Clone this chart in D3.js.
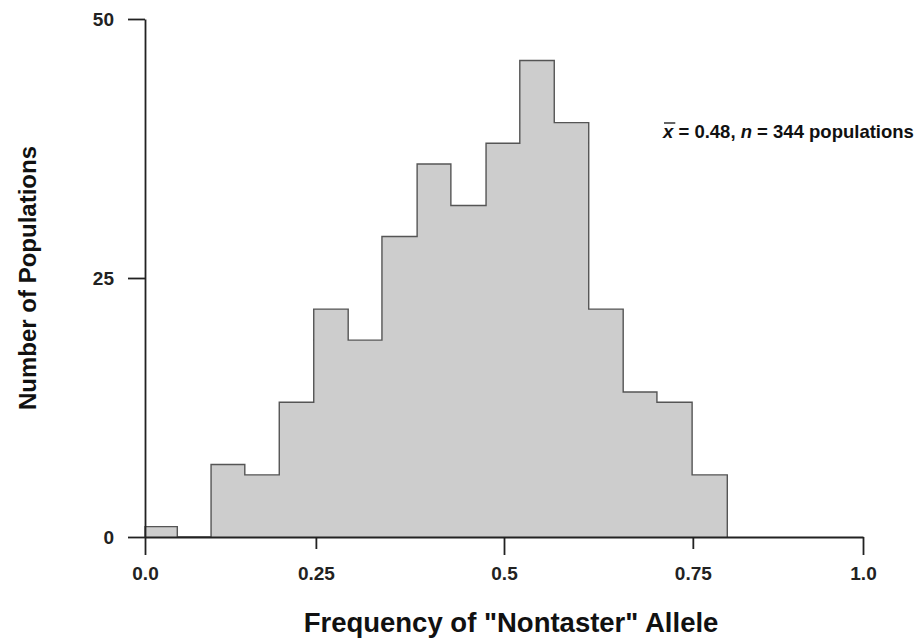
<!DOCTYPE html>
<html>
<head>
<meta charset="utf-8">
<script src="https://cdn.jsdelivr.net/npm/d3@7"></script>
<style>
  html, body { margin: 0; padding: 0; background: #fff; }
  svg { display: block; font-family: "Liberation Sans", Arial, Helvetica, sans-serif; }
</style>
</head>
<body>
<svg id="chart" width="918" height="640"></svg>
<script>
// bin edges along the frequency axis, as they sit in the picture
const binEdges = [0, 0.045, 0.092, 0.139, 0.187, 0.235, 0.283, 0.330, 0.379,
                  0.426, 0.475, 0.522, 0.570, 0.618, 0.666, 0.713, 0.762, 0.811]
// number of populations in each bin
const counts = [1, 0, 7, 6, 13, 22, 19, 29, 36, 32, 38, 46, 40, 22, 14, 13, 6]

// x tick marks, placed where the original axis draws them
const xTickAt = [0, 0.238, 0.5, 0.763, 1.0]
const xTickLabels = ["0.0", "0.25", "0.5", "0.75", "1.0"]
const xTickMajor = [true, false, true, false, true]
const yTicks = [0, 25, 50]

const svg = d3.select("#chart")

const xScale = d3.scaleLinear()
    .domain([0, 1])
    .range([145, 863])

const yScale = d3.scaleLinear()
    .domain([0, 50])
    .range([537, 19])

// histogram fill + outline (no lines between neighbouring bars)
const pts = [[binEdges[0], 0]]
counts.forEach((c, i) => pts.push([binEdges[i], c]))
pts.push([binEdges[binEdges.length - 1], 0])

const area = d3.area()
    .x(d => xScale(d[0]))
    .y0(yScale(0))
    .y1(d => yScale(d[1]))
    .curve(d3.curveStepAfter)

const outline = d3.line()
    .x(d => xScale(d[0]))
    .y(d => yScale(d[1]))
    .curve(d3.curveStepAfter)

svg.append("path")
    .datum(pts)
    .attr("d", area)
    .attr("fill", "#cdcdcd")

svg.append("path")
    .datum(pts)
    .attr("d", outline)
    .attr("fill", "none")
    .attr("stroke", "#555")
    .attr("stroke-width", 1.4)

// x axis
const xAxis = d3.axisBottom(xScale)
    .tickValues(xTickAt)
    .tickFormat((d, i) => xTickLabels[i])
    .tickSize(18)
    .tickSizeOuter(0)
    .tickPadding(10)

const gx = svg.append("g")
    .attr("transform", `translate(0,${yScale(0)})`)
    .call(xAxis)

gx.selectAll(".tick line")
    .attr("y2", (d, i) => xTickMajor[i] ? 18 : 12)
gx.selectAll(".tick text")
    .attr("y", 30)

// y axis
const yAxis = d3.axisLeft(yScale)
    .tickValues(yTicks)
    .tickSize(17)
    .tickSizeOuter(0)
    .tickPadding(14)

const gy = svg.append("g")
    .attr("transform", `translate(${xScale(0)},0)`)
    .call(yAxis)

svg.selectAll(".domain, .tick line")
    .attr("stroke", "#222")
    .attr("stroke-width", 1.8)

svg.selectAll(".tick text")
    .attr("fill", "#222")
    .style("font-size", "19px")
    .style("font-weight", "bold")

// axis titles
svg.append("text")
    .attr("x", 511)
    .attr("y", 632)
    .attr("text-anchor", "middle")
    .style("font-size", "27.5px")
    .style("font-weight", "bold")
    .attr("fill", "#111")
    .text('Frequency of "Nontaster" Allele')

svg.append("text")
    .attr("transform", "translate(36,278) rotate(-90)")
    .attr("text-anchor", "middle")
    .style("font-size", "24px")
    .style("font-weight", "bold")
    .attr("fill", "#111")
    .text("Number of Populations")

// annotation: x-bar = 0.48, n = 344 populations
const note = svg.append("text")
    .attr("x", 663)
    .attr("y", 138)
    .style("font-size", "18.5px")
    .style("font-weight", "bold")
    .attr("fill", "#111")

note.append("tspan").style("font-style", "italic").text("x")
note.append("tspan").text(" = 0.48, ")
note.append("tspan").style("font-style", "italic").text("n")
note.append("tspan").text(" = 344 populations")

const xb = note.node().getExtentOfChar(0)
svg.append("line")
    .attr("x1", xb.x + 1)
    .attr("x2", xb.x + xb.width + 2)
    .attr("y1", 123)
    .attr("y2", 123)
    .attr("stroke", "#111")
    .attr("stroke-width", 1.3)
</script>
</body>
</html>
